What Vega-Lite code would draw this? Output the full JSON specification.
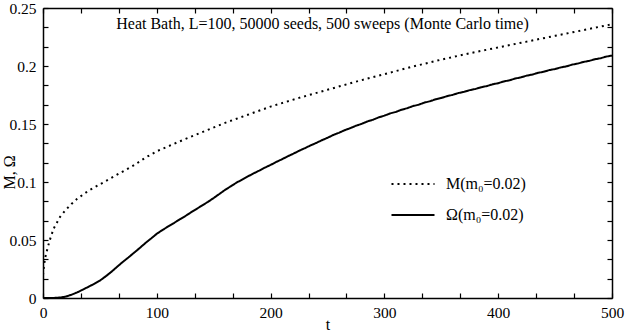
{
  "$schema": "https://vega.github.io/schema/vega-lite/v6.json",
  "width": 569,
  "height": 290,
  "autosize": {"type": "none"},
  "padding": {"left": 43, "top": 8, "right": 13, "bottom": 34},
  "background": "white",
  "config": {
    "view": {"stroke": null},
    "font": "Liberation Serif",
    "axis": {"grid": false, "domainColor": "black", "domainWidth": 1.5, "tickColor": "black", "tickWidth": 1.2, "labelColor": "black", "titleColor": "black", "labelFont": "Liberation Serif", "titleFont": "Liberation Serif", "labelFontSize": 15.5, "titleFontSize": 16, "titleFontWeight": "normal", "labelFlush": false, "labelOverlap": false},
    "legend": {"labelFont": "Liberation Serif"},
    "text": {"font": "Liberation Serif"}
  },
  "layer": [
    {
      "data": {"values": [
        {"t": 0, "value": 0.020, "series": "M(m₀=0.02)"},
        {"t": 1, "value": 0.029, "series": "M(m₀=0.02)"},
        {"t": 2, "value": 0.035, "series": "M(m₀=0.02)"},
        {"t": 4, "value": 0.043, "series": "M(m₀=0.02)"},
        {"t": 6, "value": 0.050, "series": "M(m₀=0.02)"},
        {"t": 8, "value": 0.056, "series": "M(m₀=0.02)"},
        {"t": 10, "value": 0.061, "series": "M(m₀=0.02)"},
        {"t": 15, "value": 0.070, "series": "M(m₀=0.02)"},
        {"t": 20, "value": 0.076, "series": "M(m₀=0.02)"},
        {"t": 25, "value": 0.081, "series": "M(m₀=0.02)"},
        {"t": 30, "value": 0.0855, "series": "M(m₀=0.02)"},
        {"t": 40, "value": 0.0925, "series": "M(m₀=0.02)"},
        {"t": 50, "value": 0.098, "series": "M(m₀=0.02)"},
        {"t": 60, "value": 0.1035, "series": "M(m₀=0.02)"},
        {"t": 70, "value": 0.109, "series": "M(m₀=0.02)"},
        {"t": 80, "value": 0.1145, "series": "M(m₀=0.02)"},
        {"t": 90, "value": 0.121, "series": "M(m₀=0.02)"},
        {"t": 100, "value": 0.1265, "series": "M(m₀=0.02)"},
        {"t": 120, "value": 0.135, "series": "M(m₀=0.02)"},
        {"t": 140, "value": 0.143, "series": "M(m₀=0.02)"},
        {"t": 160, "value": 0.151, "series": "M(m₀=0.02)"},
        {"t": 180, "value": 0.158, "series": "M(m₀=0.02)"},
        {"t": 200, "value": 0.165, "series": "M(m₀=0.02)"},
        {"t": 225, "value": 0.1725, "series": "M(m₀=0.02)"},
        {"t": 250, "value": 0.1795, "series": "M(m₀=0.02)"},
        {"t": 275, "value": 0.1865, "series": "M(m₀=0.02)"},
        {"t": 300, "value": 0.193, "series": "M(m₀=0.02)"},
        {"t": 325, "value": 0.1995, "series": "M(m₀=0.02)"},
        {"t": 350, "value": 0.2055, "series": "M(m₀=0.02)"},
        {"t": 375, "value": 0.211, "series": "M(m₀=0.02)"},
        {"t": 400, "value": 0.216, "series": "M(m₀=0.02)"},
        {"t": 425, "value": 0.221, "series": "M(m₀=0.02)"},
        {"t": 450, "value": 0.226, "series": "M(m₀=0.02)"},
        {"t": 475, "value": 0.231, "series": "M(m₀=0.02)"},
        {"t": 500, "value": 0.236, "series": "M(m₀=0.02)"},
        {"t": 0, "value": 0, "series": "Ω(m₀=0.02)"},
        {"t": 5, "value": 0, "series": "Ω(m₀=0.02)"},
        {"t": 10, "value": 0.0001, "series": "Ω(m₀=0.02)"},
        {"t": 15, "value": 0.0004, "series": "Ω(m₀=0.02)"},
        {"t": 20, "value": 0.0012, "series": "Ω(m₀=0.02)"},
        {"t": 25, "value": 0.0028, "series": "Ω(m₀=0.02)"},
        {"t": 30, "value": 0.0048, "series": "Ω(m₀=0.02)"},
        {"t": 35, "value": 0.0072, "series": "Ω(m₀=0.02)"},
        {"t": 40, "value": 0.0097, "series": "Ω(m₀=0.02)"},
        {"t": 45, "value": 0.0122, "series": "Ω(m₀=0.02)"},
        {"t": 50, "value": 0.0150, "series": "Ω(m₀=0.02)"},
        {"t": 55, "value": 0.0186, "series": "Ω(m₀=0.02)"},
        {"t": 60, "value": 0.0225, "series": "Ω(m₀=0.02)"},
        {"t": 65, "value": 0.0268, "series": "Ω(m₀=0.02)"},
        {"t": 70, "value": 0.0310, "series": "Ω(m₀=0.02)"},
        {"t": 75, "value": 0.0349, "series": "Ω(m₀=0.02)"},
        {"t": 80, "value": 0.0390, "series": "Ω(m₀=0.02)"},
        {"t": 85, "value": 0.0431, "series": "Ω(m₀=0.02)"},
        {"t": 90, "value": 0.0474, "series": "Ω(m₀=0.02)"},
        {"t": 95, "value": 0.0513, "series": "Ω(m₀=0.02)"},
        {"t": 100, "value": 0.0554, "series": "Ω(m₀=0.02)"},
        {"t": 105, "value": 0.0586, "series": "Ω(m₀=0.02)"},
        {"t": 110, "value": 0.0617, "series": "Ω(m₀=0.02)"},
        {"t": 115, "value": 0.0646, "series": "Ω(m₀=0.02)"},
        {"t": 120, "value": 0.0677, "series": "Ω(m₀=0.02)"},
        {"t": 125, "value": 0.0706, "series": "Ω(m₀=0.02)"},
        {"t": 130, "value": 0.0738, "series": "Ω(m₀=0.02)"},
        {"t": 135, "value": 0.0768, "series": "Ω(m₀=0.02)"},
        {"t": 140, "value": 0.0799, "series": "Ω(m₀=0.02)"},
        {"t": 145, "value": 0.0829, "series": "Ω(m₀=0.02)"},
        {"t": 150, "value": 0.0862, "series": "Ω(m₀=0.02)"},
        {"t": 155, "value": 0.0897, "series": "Ω(m₀=0.02)"},
        {"t": 160, "value": 0.0932, "series": "Ω(m₀=0.02)"},
        {"t": 165, "value": 0.0963, "series": "Ω(m₀=0.02)"},
        {"t": 170, "value": 0.0994, "series": "Ω(m₀=0.02)"},
        {"t": 175, "value": 0.1021, "series": "Ω(m₀=0.02)"},
        {"t": 180, "value": 0.1048, "series": "Ω(m₀=0.02)"},
        {"t": 185, "value": 0.1074, "series": "Ω(m₀=0.02)"},
        {"t": 190, "value": 0.1098, "series": "Ω(m₀=0.02)"},
        {"t": 195, "value": 0.1124, "series": "Ω(m₀=0.02)"},
        {"t": 200, "value": 0.1147, "series": "Ω(m₀=0.02)"},
        {"t": 205, "value": 0.1173, "series": "Ω(m₀=0.02)"},
        {"t": 210, "value": 0.1196, "series": "Ω(m₀=0.02)"},
        {"t": 215, "value": 0.1221, "series": "Ω(m₀=0.02)"},
        {"t": 220, "value": 0.1244, "series": "Ω(m₀=0.02)"},
        {"t": 225, "value": 0.1269, "series": "Ω(m₀=0.02)"},
        {"t": 230, "value": 0.1291, "series": "Ω(m₀=0.02)"},
        {"t": 235, "value": 0.1315, "series": "Ω(m₀=0.02)"},
        {"t": 240, "value": 0.1336, "series": "Ω(m₀=0.02)"},
        {"t": 245, "value": 0.1360, "series": "Ω(m₀=0.02)"},
        {"t": 250, "value": 0.1381, "series": "Ω(m₀=0.02)"},
        {"t": 255, "value": 0.1405, "series": "Ω(m₀=0.02)"},
        {"t": 260, "value": 0.1424, "series": "Ω(m₀=0.02)"},
        {"t": 265, "value": 0.1446, "series": "Ω(m₀=0.02)"},
        {"t": 270, "value": 0.1464, "series": "Ω(m₀=0.02)"},
        {"t": 275, "value": 0.1485, "series": "Ω(m₀=0.02)"},
        {"t": 280, "value": 0.1501, "series": "Ω(m₀=0.02)"},
        {"t": 285, "value": 0.1522, "series": "Ω(m₀=0.02)"},
        {"t": 290, "value": 0.1537, "series": "Ω(m₀=0.02)"},
        {"t": 295, "value": 0.1557, "series": "Ω(m₀=0.02)"},
        {"t": 300, "value": 0.1572, "series": "Ω(m₀=0.02)"},
        {"t": 305, "value": 0.1591, "series": "Ω(m₀=0.02)"},
        {"t": 310, "value": 0.1604, "series": "Ω(m₀=0.02)"},
        {"t": 315, "value": 0.1623, "series": "Ω(m₀=0.02)"},
        {"t": 320, "value": 0.1636, "series": "Ω(m₀=0.02)"},
        {"t": 325, "value": 0.1654, "series": "Ω(m₀=0.02)"},
        {"t": 330, "value": 0.1666, "series": "Ω(m₀=0.02)"},
        {"t": 335, "value": 0.1684, "series": "Ω(m₀=0.02)"},
        {"t": 340, "value": 0.1696, "series": "Ω(m₀=0.02)"},
        {"t": 345, "value": 0.1713, "series": "Ω(m₀=0.02)"},
        {"t": 350, "value": 0.1724, "series": "Ω(m₀=0.02)"},
        {"t": 355, "value": 0.1740, "series": "Ω(m₀=0.02)"},
        {"t": 360, "value": 0.1751, "series": "Ω(m₀=0.02)"},
        {"t": 365, "value": 0.1767, "series": "Ω(m₀=0.02)"},
        {"t": 370, "value": 0.1777, "series": "Ω(m₀=0.02)"},
        {"t": 375, "value": 0.1792, "series": "Ω(m₀=0.02)"},
        {"t": 380, "value": 0.1802, "series": "Ω(m₀=0.02)"},
        {"t": 385, "value": 0.1817, "series": "Ω(m₀=0.02)"},
        {"t": 390, "value": 0.1827, "series": "Ω(m₀=0.02)"},
        {"t": 395, "value": 0.1842, "series": "Ω(m₀=0.02)"},
        {"t": 400, "value": 0.1852, "series": "Ω(m₀=0.02)"},
        {"t": 405, "value": 0.1867, "series": "Ω(m₀=0.02)"},
        {"t": 410, "value": 0.1877, "series": "Ω(m₀=0.02)"},
        {"t": 415, "value": 0.1892, "series": "Ω(m₀=0.02)"},
        {"t": 420, "value": 0.1902, "series": "Ω(m₀=0.02)"},
        {"t": 425, "value": 0.1917, "series": "Ω(m₀=0.02)"},
        {"t": 430, "value": 0.1926, "series": "Ω(m₀=0.02)"},
        {"t": 435, "value": 0.1941, "series": "Ω(m₀=0.02)"},
        {"t": 440, "value": 0.1950, "series": "Ω(m₀=0.02)"},
        {"t": 445, "value": 0.1965, "series": "Ω(m₀=0.02)"},
        {"t": 450, "value": 0.1974, "series": "Ω(m₀=0.02)"},
        {"t": 455, "value": 0.1988, "series": "Ω(m₀=0.02)"},
        {"t": 460, "value": 0.1997, "series": "Ω(m₀=0.02)"},
        {"t": 465, "value": 0.2012, "series": "Ω(m₀=0.02)"},
        {"t": 470, "value": 0.2021, "series": "Ω(m₀=0.02)"},
        {"t": 475, "value": 0.2035, "series": "Ω(m₀=0.02)"},
        {"t": 480, "value": 0.2044, "series": "Ω(m₀=0.02)"},
        {"t": 485, "value": 0.2058, "series": "Ω(m₀=0.02)"},
        {"t": 490, "value": 0.2067, "series": "Ω(m₀=0.02)"},
        {"t": 495, "value": 0.2081, "series": "Ω(m₀=0.02)"},
        {"t": 500, "value": 0.2090, "series": "Ω(m₀=0.02)"}
      ]},
      "mark": {"type": "line", "color": "black", "strokeWidth": 2, "strokeCap": "butt", "clip": true},
      "encoding": {
        "x": {"field": "t", "type": "quantitative", "scale": {"domain": [0, 500], "nice": false},
          "axis": {"orient": "bottom", "title": "t", "titleY": 31, "titleBaseline": "alphabetic",
            "values": [0, 33.3333, 66.6667, 100, 133.3333, 166.6667, 200, 233.3333, 266.6667, 300, 333.3333, 366.6667, 400, 433.3333, 466.6667, 500],
            "labelExpr": "abs(datum.value/100 - round(datum.value/100)) < 0.001 ? format(datum.value, 'd') : ''",
            "tickSize": -5, "labelPadding": 12}},
        "y": {"field": "value", "type": "quantitative", "scale": {"domain": [0, 0.25], "nice": false, "zero": false},
          "axis": {"orient": "left", "title": "M, Ω", "titleX": -29, "titleY": 164, "titleBaseline": "alphabetic", "titleAlign": "center", "titleAngle": -90,
            "values": [0, 0.0166667, 0.0333333, 0.05, 0.0666667, 0.0833333, 0.1, 0.1166667, 0.1333333, 0.15, 0.1666667, 0.1833333, 0.2, 0.2166667, 0.2333333, 0.25],
            "labelExpr": "abs(datum.value*20 - round(datum.value*20)) < 0.001 ? format(datum.value, '~g') : ''",
            "tickSize": -5, "labelPadding": 12}},
        "strokeDash": {"field": "series", "type": "nominal",
          "scale": {"domain": ["M(m₀=0.02)", "Ω(m₀=0.02)"], "range": [[2, 4], [1, 0]]},
          "legend": {"orient": "none", "legendX": 347, "legendY": 153, "title": null, "symbolType": "stroke", "symbolSize": 1850, "symbolStrokeWidth": 2, "symbolStrokeColor": "black", "labelFontSize": 16, "labelColor": "black", "labelOffset": 10, "rowPadding": -16}}
      }
    },
    {
      "data": {"values": [{}]},
      "mark": {"type": "text", "fontSize": 16, "align": "center", "baseline": "alphabetic", "color": "black"},
      "encoding": {
        "x": {"datum": 245.6, "type": "quantitative", "scale": {"domain": [0, 500], "nice": false},
          "axis": {"orient": "top", "title": null, "labels": false,
            "values": [0, 33.3333, 66.6667, 100, 133.3333, 166.6667, 200, 233.3333, 266.6667, 300, 333.3333, 366.6667, 400, 433.3333, 466.6667, 500],
            "tickSize": -5}},
        "y": {"datum": 0.2316, "type": "quantitative", "scale": {"domain": [0, 0.25], "nice": false, "zero": false},
          "axis": {"orient": "right", "title": null, "labels": false,
            "values": [0, 0.0166667, 0.0333333, 0.05, 0.0666667, 0.0833333, 0.1, 0.1166667, 0.1333333, 0.15, 0.1666667, 0.1833333, 0.2, 0.2166667, 0.2333333, 0.25],
            "tickSize": -5}},
        "text": {"value": "Heat Bath, L=100, 50000 seeds, 500 sweeps (Monte Carlo time)"}
      }
    }
  ],
  "resolve": {"axis": {"x": "independent", "y": "independent"}}
}
